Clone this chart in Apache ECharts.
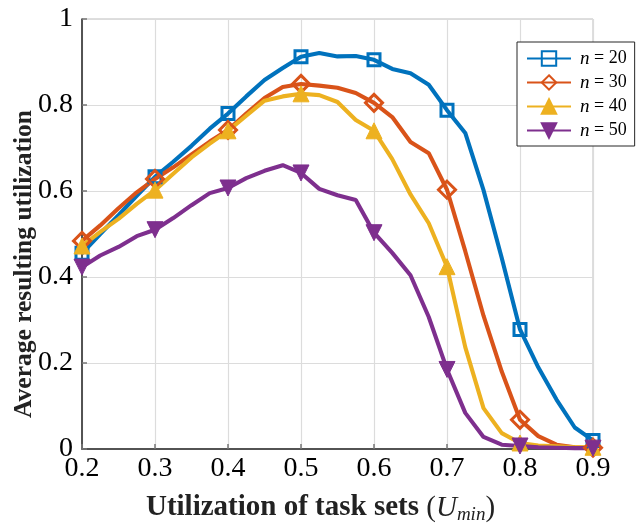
<!DOCTYPE html>
<html>
<head>
<meta charset="utf-8">
<title>Average resulting utilization</title>
<script src="https://cdn.jsdelivr.net/npm/echarts@6/dist/echarts.min.js"></script>
<style>
  html, body { margin: 0; padding: 0; background: #fff; }
  #chart { width: 644px; height: 523px; }
</style>
</head>
<body>
<div id="chart"></div>
<script>
// Task-set utilization sweep (x axis)
const uMin = [0.2, 0.225, 0.25, 0.275, 0.3, 0.325, 0.35, 0.375, 0.4, 0.425,
  0.45, 0.475, 0.5, 0.525, 0.55, 0.575, 0.6, 0.625, 0.65, 0.675,
  0.7, 0.725, 0.75, 0.775, 0.8, 0.825, 0.85, 0.875, 0.9];

// Average resulting utilization per number of tasks n
const util_n20 = [0.455, 0.500, 0.544, 0.589, 0.633, 0.668, 0.705, 0.745, 0.780, 0.820,
  0.858, 0.886, 0.912, 0.921, 0.913, 0.914, 0.905, 0.884, 0.874, 0.847,
  0.788, 0.735, 0.602, 0.444, 0.278, 0.190, 0.115, 0.050, 0.020];
const util_n30 = [0.484, 0.520, 0.560, 0.597, 0.628, 0.655, 0.685, 0.715, 0.742, 0.780,
  0.816, 0.842, 0.849, 0.845, 0.840, 0.828, 0.805, 0.772, 0.714, 0.688,
  0.603, 0.460, 0.310, 0.180, 0.068, 0.030, 0.010, 0.004, 0.003];
const util_n40 = [0.472, 0.505, 0.535, 0.570, 0.602, 0.640, 0.678, 0.710, 0.740, 0.775,
  0.810, 0.820, 0.826, 0.823, 0.807, 0.765, 0.740, 0.674, 0.592, 0.525,
  0.424, 0.237, 0.095, 0.037, 0.014, 0.008, 0.006, 0.004, 0.004];
const util_n50 = [0.423, 0.450, 0.470, 0.495, 0.510, 0.537, 0.567, 0.595, 0.607, 0.630,
  0.647, 0.660, 0.642, 0.605, 0.590, 0.579, 0.503, 0.456, 0.404, 0.307,
  0.185, 0.084, 0.028, 0.010, 0.007, 0.004, 0.003, 0.002, 0.002];

const seriesNames = ['n = 20', 'n = 30', 'n = 40', 'n = 50'];
const seriesValues = [util_n20, util_n30, util_n40, util_n50];
const colors = ['#0072BD', '#D95319', '#EDB120', '#7E2F8E'];

// Marker styles: hollow square, hollow diamond, filled up / down triangles
const markers = [
  { symbol: 'rect', size: 12, hollow: true, rotate: 0 },
  { symbol: 'diamond', size: 17, hollow: true, rotate: 0 },
  { symbol: 'triangle', size: 16, hollow: false, rotate: 0 },
  { symbol: 'triangle', size: 16, hollow: false, rotate: 180 }
];

// markers only at multiples of 0.1
const onTenth = x => Math.abs(x * 10 - Math.round(x * 10)) < 1e-9;

const series = seriesValues.map((vals, i) => {
  const m = markers[i];
  return {
    name: seriesNames[i],
    type: 'line',
    data: uMin.map((x, k) => onTenth(x)
      ? { value: [x, vals[k]] }
      : { value: [x, vals[k]], symbol: 'none' }),
    symbol: m.symbol,
    symbolSize: m.size,
    symbolRotate: m.rotate,
    showSymbol: true,
    showAllSymbol: true,
    lineStyle: { color: colors[i], width: 4.1 },
    itemStyle: m.hollow
      ? { color: 'rgba(255,255,255,0)', borderColor: colors[i], borderWidth: 3 }
      : { color: colors[i], borderColor: colors[i], borderWidth: 1 },
    emphasis: { disabled: true },
    animation: false
  };
});

const serif = '"Liberation Serif", "Times New Roman", serif';

const chart = echarts.init(document.getElementById('chart'), null, { renderer: 'canvas' });
chart.setOption({
  backgroundColor: '#fff',
  animation: false,
  grid: {
    left: 82, right: 51, top: 19, bottom: 74,
    containLabel: false, outerBoundsMode: 'none',
    show: true, borderColor: '#bdbdbd', borderWidth: 1, backgroundColor: 'transparent'
  },
  xAxis: {
    type: 'value', min: 0.2, max: 0.9, interval: 0.1,
    axisLine: { show: true, onZero: false, lineStyle: { color: '#262626', width: 1.5 } },
    axisTick: { show: true, inside: true, length: 5, lineStyle: { color: '#777', width: 1.5 } },
    splitLine: { show: true, lineStyle: { color: '#dcdcdc', width: 1.2 } },
    axisLabel: { color: '#000', fontFamily: serif, fontSize: 28, margin: 6,
      formatter: v => (Math.round(v * 10) / 10).toString() },
    name: '{b|Utilization of task sets }{p|(}{u|U}{s|min}{p|)}',
    nameLocation: 'middle', nameGap: 43, nameMoveOverlap: false,
    nameTextStyle: {
      padding: [0, 34, 0, 0],
      rich: {
        b: { fontFamily: serif, fontWeight: 'bold', fontSize: 29, color: '#222' },
        p: { fontFamily: serif, fontSize: 29, color: '#222' },
        u: { fontFamily: serif, fontStyle: 'italic', fontSize: 29, color: '#222' },
        s: { fontFamily: serif, fontStyle: 'italic', fontSize: 19, color: '#222', padding: [13, 0, 0, 0] }
      }
    }
  },
  yAxis: {
    type: 'value', min: 0, max: 1, interval: 0.2,
    axisLine: { show: true, lineStyle: { color: '#262626', width: 1.5 } },
    axisTick: { show: true, inside: true, length: 5, lineStyle: { color: '#777', width: 1.5 } },
    splitLine: { show: true, lineStyle: { color: '#dcdcdc', width: 1.2 } },
    axisLabel: { color: '#000', fontFamily: serif, fontSize: 28, margin: 9 },
    name: 'Average resulting utilization',
    nameLocation: 'middle', nameGap: 45, nameRotate: 90, nameMoveOverlap: false,
    nameTextStyle: { fontFamily: serif, fontWeight: 'bold', fontSize: 25.5, color: '#222',
      padding: [0, 60, 0, 0] }
  },
  legend: {
    data: seriesNames,
    orient: 'vertical',
    left: 517, top: 42,
    padding: [7, 8, 6, 9],
    itemWidth: 44, itemHeight: 18, itemGap: 5,
    backgroundColor: '#fff',
    borderColor: '#262626', borderWidth: 1,
    formatter: name => '{i|n}{r|\u2005=\u2005' + name.split('= ')[1] + '}',
    textStyle: {
      rich: {
        i: { fontFamily: serif, fontStyle: 'italic', fontSize: 19, color: '#000', lineHeight: 18, padding: [0, 0, 0, 4] },
        r: { fontFamily: serif, fontSize: 18, color: '#000', lineHeight: 18 }
      }
    }
  },
  series: series
});
</script>
</body>
</html>
